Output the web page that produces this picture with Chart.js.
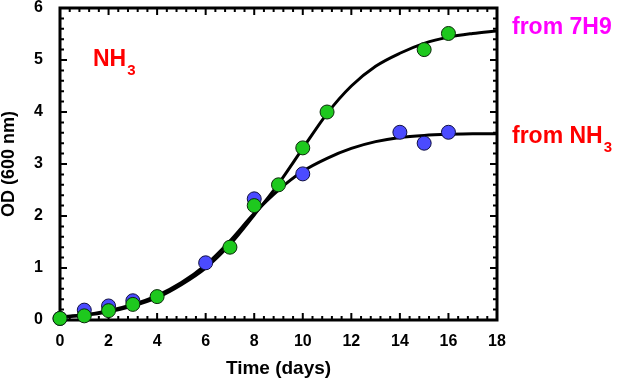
<!DOCTYPE html>
<html>
<head>
<meta charset="utf-8">
<script src="https://cdn.jsdelivr.net/npm/chart.js@4.4.1/dist/chart.umd.min.js"></script>
<style>
  html, body { margin: 0; padding: 0; background: #fff; }
</style>
</head>
<body>
<canvas id="odChart" width="617" height="382"></canvas>
<script>
const days7H9 = [0, 1, 2, 3, 4, 7, 8, 9, 10, 11, 15, 16];
const od7H9 = [0.03, 0.08, 0.18, 0.30, 0.45, 1.40, 2.20, 2.60, 3.31, 4.00, 5.20, 5.51];
const daysNH3 = [0, 1, 2, 3, 6, 8, 10, 14, 15, 16];
const odNH3 = [0.03, 0.19, 0.27, 0.37, 1.10, 2.33, 2.81, 3.61, 3.40, 3.61];

// curvas de ajuste, leídas día a día
const fitDays = [0, 1, 2, 3, 4, 5, 6, 7, 8, 9, 10, 11, 12, 13, 14, 15, 16, 17, 18];
const fit7H9 = [0.05, 0.09, 0.16, 0.27, 0.43, 0.68, 1.00, 1.45, 2.02, 2.62, 3.30, 3.97, 4.50, 4.88, 5.13, 5.32, 5.44, 5.51, 5.56];
const fitNH3 = [0.06, 0.10, 0.18, 0.30, 0.47, 0.72, 1.06, 1.52, 2.05, 2.50, 2.86, 3.11, 3.30, 3.43, 3.51, 3.55, 3.57, 3.58, 3.58];

// etiquetas de los ejes
const xTicks = [0, 2, 4, 6, 8, 10, 12, 14, 16, 18];
const yTicks = [0, 1, 2, 3, 4, 5, 6];

const FONT = "'Liberation Sans', Arial, sans-serif";
const toXY = (xs, ys) => xs.map((x, i) => ({ x: x, y: ys[i] }));

// marco con marcas hacia dentro en los cuatro lados
const framePlugin = {
  id: 'frame',
  beforeDatasetsDraw(chart) {
    const { ctx, chartArea: a, scales: { x, y } } = chart;
    ctx.save();
    ctx.strokeStyle = '#000';
    ctx.lineWidth = 2;
    ctx.beginPath();
    for (let i = 0; i <= 45; i++) {
      const px = x.getPixelForValue(i * 0.4);
      const len = i % 5 === 0 ? 7 : 4;
      ctx.moveTo(px, a.bottom); ctx.lineTo(px, a.bottom - len);
      ctx.moveTo(px, a.top); ctx.lineTo(px, a.top + len);
    }
    for (let i = 0; i <= 30; i++) {
      const py = y.getPixelForValue(i * 0.2);
      const len = i % 5 === 0 ? 7 : 4;
      ctx.moveTo(a.left, py); ctx.lineTo(a.left + len, py);
      ctx.moveTo(a.right, py); ctx.lineTo(a.right - len, py);
    }
    ctx.stroke();
    ctx.lineWidth = 3;
    ctx.strokeRect(a.left, a.top, a.right - a.left, a.bottom - a.top);
    ctx.restore();
  },
  afterDraw(chart) {
    const { ctx, chartArea: a } = chart;
    // texto con subíndice
    function label(main, sub, px, py, color) {
      ctx.fillStyle = color;
      ctx.textBaseline = 'alphabetic';
      ctx.textAlign = 'left';
      ctx.font = 'bold 23px ' + FONT;
      ctx.fillText(main, px, py);
      if (sub) {
        const w = ctx.measureText(main).width;
        ctx.font = 'bold 15px ' + FONT;
        ctx.fillText(sub, px + w + 1, py + 9);
      }
    }
    ctx.save();
    label('NH', '3', a.left + 33, a.top + 58, '#ff0000');
    label('from 7H9', '', a.right + 15, a.top + 26, '#ff00ff');
    label('from NH', '3', a.right + 15, a.top + 135, '#ff0000');
    ctx.restore();
  }
};

new Chart(document.getElementById('odChart'), {
  type: 'scatter',
  data: {
    datasets: [
      {
        label: 'from 7H9',
        data: toXY(days7H9, od7H9),
        backgroundColor: '#1ec81e',
        borderColor: '#0a280a',
        borderWidth: 1,
        pointRadius: 7,
        clip: false,
        order: 0
      },
      {
        label: 'from NH3',
        data: toXY(daysNH3, odNH3),
        backgroundColor: '#4b4bff',
        borderColor: '#101040',
        borderWidth: 1,
        pointRadius: 7,
        clip: false,
        order: 1
      },
      {
        label: 'fit 7H9',
        data: toXY(fitDays, fit7H9),
        showLine: true,
        borderColor: '#000',
        borderWidth: 3,
        pointRadius: 0,
        cubicInterpolationMode: 'monotone',
        order: 2
      },
      {
        label: 'fit NH3',
        data: toXY(fitDays, fitNH3),
        showLine: true,
        borderColor: '#000',
        borderWidth: 3,
        pointRadius: 0,
        cubicInterpolationMode: 'monotone',
        order: 3
      }
    ]
  },
  options: {
    responsive: false,
    animation: false,
    devicePixelRatio: 1,
    layout: { padding: { top: 7, right: 120, left: 0, bottom: 0 } },
    plugins: {
      legend: { display: false },
      tooltip: { enabled: false }
    },
    scales: {
      x: {
        type: 'linear',
        min: 0,
        max: 18,
        grid: { display: false },
        border: { display: false },
        afterBuildTicks: s => { s.ticks = xTicks.map(v => ({ value: v })); },
        afterFit: s => { s.height = 62; s.paddingLeft = 0; s.paddingRight = 0; },
        ticks: {
          color: '#000',
          padding: 4,
          maxRotation: 0,
          font: { family: FONT, size: 16, weight: 'bold' }
        },
        title: {
          display: true,
          text: 'Time (days)',
          color: '#000',
          padding: { top: 0, bottom: 2 },
          font: { family: FONT, size: 19, weight: 'bold', lineHeight: 1.2 }
        }
      },
      y: {
        type: 'linear',
        min: 0,
        max: 6,
        grid: { display: false },
        border: { display: false },
        afterBuildTicks: s => { s.ticks = yTicks.map(v => ({ value: v })); },
        afterFit: s => { s.width = 60; s.paddingTop = 0; s.paddingBottom = 0; },
        ticks: {
          color: '#000',
          padding: 9,
          font: { family: FONT, size: 16, weight: 'bold' }
        },
        title: {
          display: true,
          text: 'OD (600 nm)',
          color: '#000',
          padding: { top: 0, bottom: 0 },
          font: { family: FONT, size: 18, weight: 'bold', lineHeight: 1 }
        }
      }
    }
  },
  plugins: [framePlugin]
});
</script>
</body>
</html>
